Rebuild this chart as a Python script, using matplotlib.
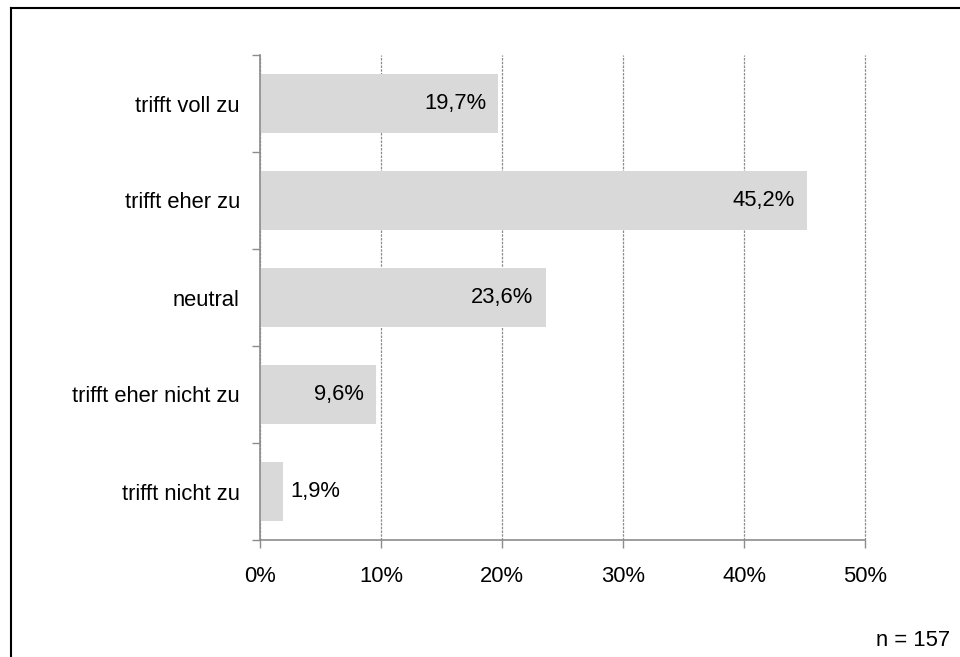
import matplotlib
matplotlib.use("Agg")
import matplotlib.pyplot as plt
from matplotlib.lines import Line2D

plt.rcParams['font.family'] = ['Liberation Sans', 'DejaVu Sans']

categories = ["trifft voll zu", "trifft eher zu", "neutral",
              "trifft eher nicht zu", "trifft nicht zu"]
values = [19.7, 45.2, 23.6, 9.6, 1.9]
x_ticks = [0, 10, 20, 30, 40, 50]
x_tick_labels = ["0%", "10%", "20%", "30%", "40%", "50%"]
sample_note = "n = 157"

FS = 15.8

fig = plt.figure(figsize=(9.6, 6.57), dpi=100)
ax = fig.add_axes([260 / 960, 1 - 540 / 657, 605 / 960, 485 / 657])

n = len(categories)
ypos = list(range(n))
ax.barh(ypos, values, height=0.6, color="#d9d9d9", zorder=2)
ax.set_ylim(n - 0.5, -0.5)
ax.set_xlim(0, 50)

# vertical dashed gridlines
ax.set_xticks(x_ticks)
ax.set_xticklabels(x_tick_labels, fontsize=FS)
ax.xaxis.grid(True, linestyle=(0, (2, 1)), color="#8c8c8c", linewidth=0.9, zorder=1)
for gl in ax.get_xgridlines():
    gl.set_clip_on(False)
ax.tick_params(axis="x", length=6, width=1, color="#8c8c8c", pad=13)

# category boundary ticks on the y-axis, labels centred on the bars
ax.set_yticks([i - 0.5 for i in range(n + 1)])
ax.set_yticklabels([])
ax.set_yticks(ypos, minor=True)
ax.set_yticklabels(categories, minor=True, fontsize=FS)
ax.tick_params(axis="y", which="major", length=6, width=1, color="#8c8c8c")
ax.tick_params(axis="y", which="minor", length=0, pad=14.5)

for side in ("top", "right"):
    ax.spines[side].set_visible(False)
for side in ("left", "bottom"):
    ax.spines[side].set_color("#8c8c8c")
    ax.spines[side].set_linewidth(1.2)

# value labels
for y, v in zip(ypos, values):
    txt = f"{v:.1f}%".replace(".", ",")
    if v < 5:
        ax.text(v + 0.6, y, txt, va="center", ha="left", fontsize=FS, zorder=3)
    else:
        ax.text(v - 1.0, y, txt, va="center", ha="right", fontsize=FS, zorder=3)

fig.text(950 / 960, 1 - 640 / 657, sample_note, ha="right", va="center", fontsize=FS)

# frame lines along the top and left of the figure
fig.add_artist(Line2D([11 / 960, 1], [1 - 7.5 / 657] * 2, transform=fig.transFigure,
                      color="black", linewidth=1.5))
fig.add_artist(Line2D([11 / 960] * 2, [0, 1 - 7.5 / 657], transform=fig.transFigure,
                      color="black", linewidth=1.5))

fig.savefig("out.png", dpi=100)
